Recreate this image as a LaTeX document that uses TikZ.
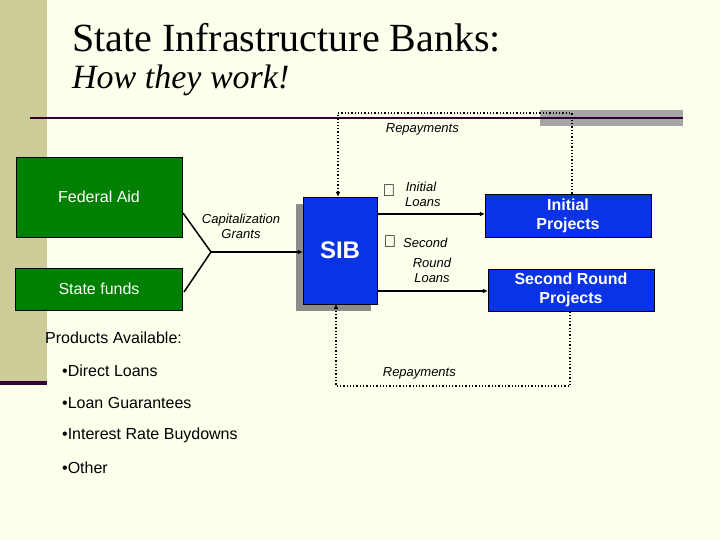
\documentclass[tikz,border=0pt]{standalone}
\usepackage{fontspec}
\setmainfont{Liberation Sans}
\newfontfamily\ttl{Liberation Serif}
\usetikzlibrary{arrows.meta}
\definecolor{bg}{HTML}{FFFFEE}
\definecolor{strip}{HTML}{CCCC99}
\definecolor{gbox}{HTML}{008000}
\definecolor{bbox}{HTML}{0A33E6}
\definecolor{dark}{HTML}{330033}
\begin{document}
\begin{tikzpicture}[x=1pt,y=-1pt,
  green/.style={draw=black,fill=gbox,text=white,font=\fontsize{16}{18}\selectfont,align=center,inner sep=0},
  blue/.style={draw=black,fill=bbox,text=white,font=\bfseries\fontsize{16}{19}\selectfont,align=center,inner sep=0},
  lab/.style={font=\itshape\fontsize{13}{15}\selectfont,align=center,inner sep=1},
  arr/.style={line width=1.5pt,-{Latex[length=5pt,width=5pt]}},
  dot/.style={line width=1.3pt,dotted,-{Latex[length=5pt,width=5pt]}},
  txt/.style={anchor=west,font=\fontsize{16}{18}\selectfont,inner sep=0}]
\fill[bg] (0,0) rectangle (720,540);
\useasboundingbox (0,0) rectangle (720,540);
\fill[strip] (0,0) rectangle (47,383);
\fill[dark] (0,381) rectangle (47,385);
\fill[black!35] (540,110) rectangle (683,126);
\draw[dark,line width=1.5pt] (30,118) -- (683,118);
\node[anchor=west,font=\ttl\fontsize{40}{44}\selectfont,inner sep=0] (t1) at (72,38) {State Infrastructure Banks:};
\node[anchor=west,font=\ttl\itshape\fontsize{34}{38}\selectfont,inner sep=0] (t2) at (72,80) {How they work!};
\node[green,minimum width=166,minimum height=80] (fed) at (99,197) {Federal Aid};
\node[green,minimum width=167,minimum height=42] (state) at (99,289) {State funds};
\fill[black!45] (296,204) rectangle (371,311);
\node[blue,minimum width=74,minimum height=107,font=\bfseries\fontsize{24}{26}\selectfont] (sib) at (340,250.5) {SIB};
\node[blue,minimum width=166,minimum height=43] (ip) at (568,215.5) {Initial\\Projects};
\node[blue,minimum width=166,minimum height=42] (sp) at (571,290) {Second Round\\Projects};
\coordinate (j) at (211,252);
\coordinate (fe) at (183,213);
\coordinate (se) at (184,292);
\draw[line width=1.5pt] (fe) -- (j) -- (se);
\draw[arr] (j) -- (sib.west|-j);
\node[lab] (cap) at (241,226) {Capitalization\\Grants};
\coordinate (l1) at (377,214);
\coordinate (l3) at (377,291);
\draw[arr] (l1) -- (ip.west|-l1);
\draw[arr] (l3) -- (sp.west|-l3);
\coordinate (a1) at (338,113); \coordinate (a2) at (572,113);
\draw[dot] (a2|-ip.north) -- (a2) -- (a1) -- (a1|-sib.north);
\coordinate (b1) at (570,386); \coordinate (b2) at (336,386);
\draw[dot] (b1|-sp.south) -- (b1) -- (b2) -- (b2|-sib.south);
\node[lab,anchor=west] (r2) at (370,129) {\fontsize{16}{16}\selectfont\char"2461\,\fontsize{13}{15}\selectfont Repayments};
\node[lab,anchor=west] (r4) at (367,373) {\fontsize{16}{16}\selectfont\char"2463\,\fontsize{13}{15}\selectfont Repayments};
\node[font=\fontsize{17}{17}\selectfont,inner sep=0] (c1) at (389,191) {\char"2460};
\node[lab] (il) at (421,194) {Initial\\\ Loans};
\node[font=\fontsize{17}{17}\selectfont,inner sep=0] (c3) at (390,242) {\char"2462};
\node[lab,anchor=west] (s1) at (402,243) {Second};
\node[lab] (s2) at (432,270) {Round\\Loans};
\node[txt] (pa) at (45,338) {Products Available:};
\node[txt] (p1) at (62,371) {•Direct Loans};
\node[txt] (p2) at (62,403) {•Loan Guarantees};
\node[txt] (p3) at (62,435) {•Interest Rate Buydowns};
\node[txt] (p4) at (62,468) {•Other};
\end{tikzpicture}
\end{document}
